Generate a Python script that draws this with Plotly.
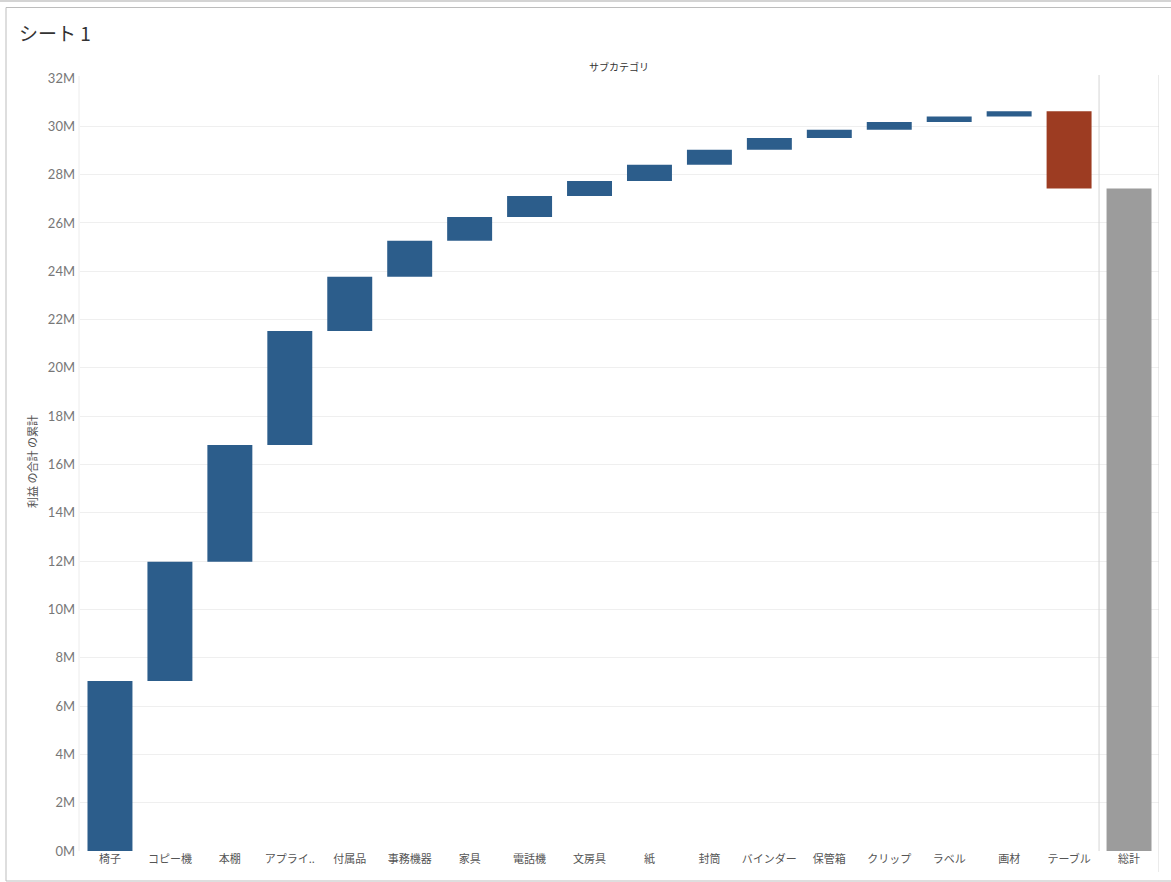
import plotly.graph_objects as go

# ---- data (profit, millions of yen) ----
categories = ["椅子", "コピー機", "本棚", "アプライアンス", "付属品", "事務機器", "家具", "電話機",
              "文房具", "紙", "封筒", "バインダー", "保管箱", "クリップ", "ラベル", "画材", "テーブル", "総計"]
tick_labels = ["椅子", "コピー機", "本棚", "アプライ..", "付属品", "事務機器", "家具", "電話機",
               "文房具", "紙", "封筒", "バインダー", "保管箱", "クリップ", "ラベル", "画材", "テーブル", "総計"]
profit_m = [7.04, 4.93, 4.84, 4.72, 2.24, 1.49, 0.99, 0.87,
            0.62, 0.67, 0.62, 0.49, 0.34, 0.32, 0.23, 0.21, -3.19, 0]
measures = ["relative"] * 17 + ["total"]
y_tick_vals = [0, 2, 4, 6, 8, 10, 12, 14, 16, 18, 20, 22, 24, 26, 28, 30, 32]
y_tick_text = ["0M", "2M", "4M", "6M", "8M", "10M", "12M", "14M", "16M", "18M",
               "20M", "22M", "24M", "26M", "28M", "30M", "32M"]

W, H = 1171, 882
L, R, T, B = 80, 12, 78, 31
pw, ph = W - L - R, H - T - B

def px(x):
    return (x - L) / pw

def py(y):
    return (H - B - y) / ph

FONT = "Lato, 'Noto Sans CJK JP', sans-serif"
JP = "'Noto Sans CJK JP', sans-serif"

fig = go.Figure(go.Waterfall(
    x=categories,
    y=profit_m,
    measure=measures,
    width=0.75,
    connector=dict(visible=False),
    increasing=dict(marker=dict(color="#2c5d8b", line=dict(width=0))),
    decreasing=dict(marker=dict(color="#9d3c22", line=dict(width=0))),
    totals=dict(marker=dict(color="#9c9c9c", line=dict(width=0))),
    hoverinfo="x+y",
))

shapes = [
    # outer frame
    dict(type="line", xref="paper", yref="paper", x0=px(0), x1=px(W), y0=py(1), y1=py(1),
         line=dict(color="#d4d4d4", width=2)),
    dict(type="rect", xref="paper", yref="paper", x0=px(6), x1=px(1172), y0=py(881), y1=py(7.5),
         line=dict(color="#bdbdbd", width=1), fillcolor="rgba(0,0,0,0)"),
    # left axis line
    dict(type="line", xref="paper", yref="paper", x0=px(79), x1=px(79), y0=0, y1=py(76),
         line=dict(color="#ececec", width=1)),
    # separator before total pane
    dict(type="line", xref="x", yref="paper", x0=16.5, x1=16.5, y0=0, y1=py(75),
         line=dict(color="#d6d6d6", width=1)),
    # right border
    dict(type="line", xref="x", yref="paper", x0=17.5, x1=17.5, y0=py(872), y1=py(75),
         line=dict(color="#d6d6d6", width=1)),
]

annotations = [
    dict(text="シート 1", xref="paper", yref="paper", x=px(17), y=py(33), xanchor="left", yanchor="middle",
         showarrow=False, font=dict(family=JP, size=19, color="#333333")),
    dict(text="サブカテゴリ", xref="paper", yref="paper", x=px(619), y=py(66), xanchor="center", yanchor="middle",
         showarrow=False, font=dict(family=JP, size=10, color="#333333")),
    dict(text="利益 の合計 の累計", xref="paper", yref="paper", x=px(32), y=py(462), xanchor="center", yanchor="middle",
         textangle=-90, showarrow=False, font=dict(family=JP, size=11, color="#555555")),
]

fig.update_layout(
    width=W, height=H,
    margin=dict(l=L, r=R, t=T, b=B, autoexpand=False),
    paper_bgcolor="white", plot_bgcolor="white",
    showlegend=False,
    font=dict(family=FONT, color="#555555"),
    shapes=shapes,
    annotations=annotations,
    xaxis=dict(
        type="category",
        categoryorder="array", categoryarray=categories,
        tickvals=categories, ticktext=tick_labels,
        tickfont=dict(family=JP, size=11, color="#555555"),
        showgrid=False, zeroline=False, showline=False,
        ticks="", automargin=False, range=[-0.5, 17.5],
    ),
    yaxis=dict(
        range=[0, 32],
        tickvals=y_tick_vals, ticktext=y_tick_text,
        tickfont=dict(family=FONT, size=13, color="#777777"),
        showgrid=True, gridcolor="#efefef", gridwidth=1,
        zeroline=False, showline=False, ticks="", ticklabelstandoff=4,
        automargin=False,
    ),
)

fig.write_html("out.html", config={"displayModeBar": False},
               post_script="document.body.style.margin='0';document.body.style.padding='0';")
